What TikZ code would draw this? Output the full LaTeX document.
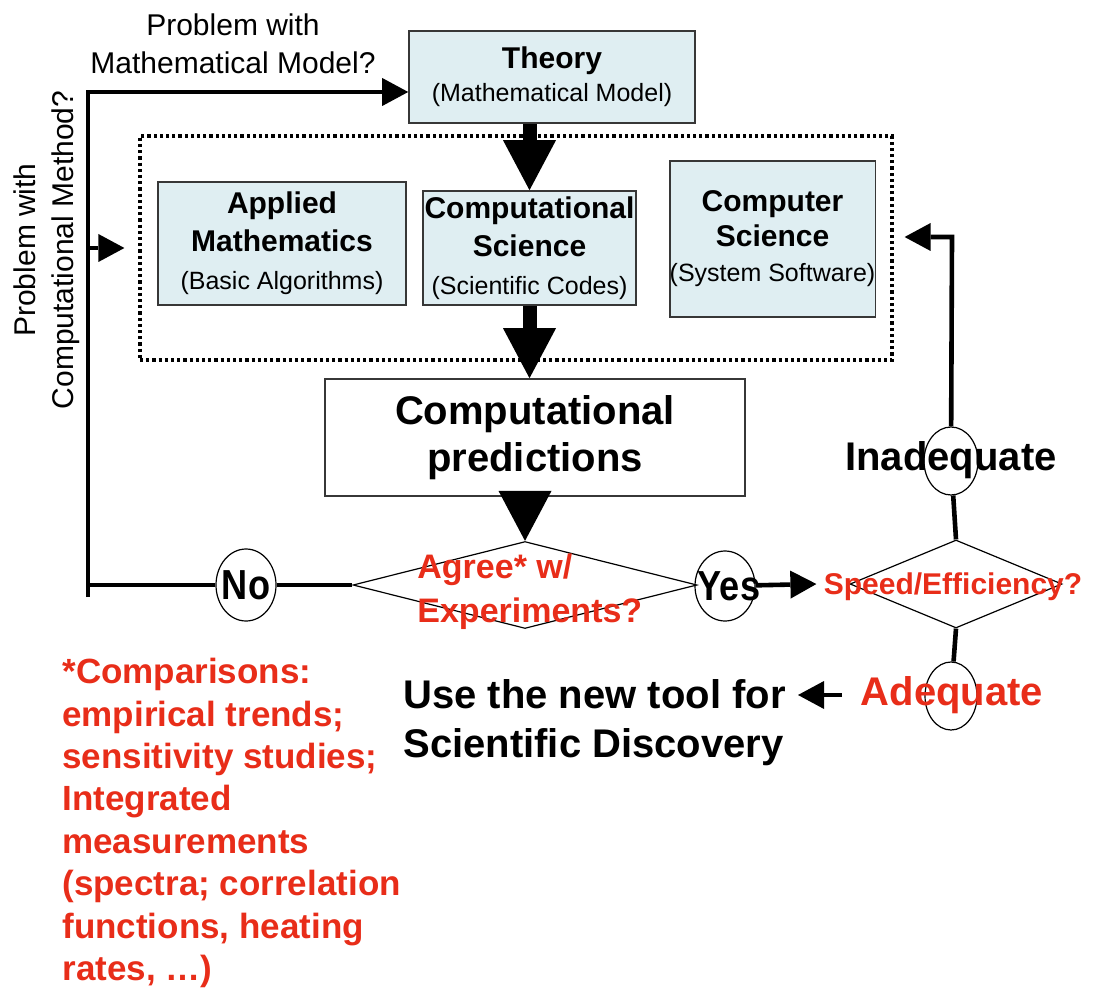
\documentclass[tikz,border=0pt]{standalone}
\usepackage{fontspec}
\setmainfont{Liberation Sans}
\newfontfamily\answerfont{Liberation Sans}[FakeStretch=0.86]
\usetikzlibrary{arrows.meta,shapes.geometric}

\definecolor{boxfill}{RGB}{223,238,242}
\definecolor{boxline}{RGB}{55,55,55}
\definecolor{alertred}{RGB}{232,45,25}

\newcommand{\boxsub}{\fontsize{12.5}{19}\selectfont\mdseries}

\tikzset{
  box/.style={draw=boxline, fill=boxfill, line width=0.8pt, align=center, inner sep=0pt,
    font=\fontsize{15}{19}\selectfont\bfseries},
  decision/.style={diamond, draw, line width=0.6pt, inner sep=0pt},
  answer/.style={ellipse, draw, line width=0.6pt, inner sep=0pt},
  answertext/.style={font=\fontsize{21}{22}\answerfont\bfseries, inner sep=0pt},
  link/.style={line width=2.3pt},
  linkarrow/.style={link, -{Triangle[width=14pt,length=13pt,line width=0pt]}},
  flowarrow/.style={line width=7pt, -{Triangle[width=26.5pt,length=25pt,line width=0pt]}},
  redtext/.style={text=alertred, font=\bfseries}
}

\begin{document}
\begin{tikzpicture}[x=0.5pt,y=-0.5pt]
  \useasboundingbox (0,0) rectangle (1096,989);

  % dotted frame round the three fields
  \node[draw, line width=1.6pt, dash pattern=on 1.6pt off 1.5pt, minimum width=376pt, minimum height=112pt, inner sep=0pt] (frame) at (516,248) {};

  % boxes
  \node[box, minimum width=143pt, minimum height=46pt, font=\fontsize{15}{16.5}\selectfont\bfseries] (theory) at (552,77)
    {Theory\\\fontsize{12.5}{16.5}\selectfont\mdseries(Mathematical Model)};
  \node[box, minimum width=124pt, minimum height=61.5pt] (applied) at (282,243.5)
    {Applied\\Mathematics\\\boxsub(Basic Algorithms)};
  \node[box, minimum width=106.5pt, minimum height=57pt] (compsci) at (529.5,248)
    {Computational\\Science\\\boxsub(Scientific Codes)};
  \node[box, minimum width=101.5pt, minimum height=78pt, font=\fontsize{15}{17.5}\selectfont\bfseries] (computer) at (772.5,239)
    {Computer\\Science\\\fontsize{12.5}{17.5}\selectfont\mdseries(System Software)};
  \node[box, fill=white, minimum width=210pt, minimum height=58.5pt, font=\fontsize{20}{23.5}\selectfont\bfseries] (pred) at (535,437.5)
    {Computational\\predictions};

  % decisions and answers
  \node[decision, minimum width=172pt, minimum height=43.5pt] (agree) at (525,585) {};
  \node[redtext, font=\fontsize{17}{22}\selectfont\bfseries, align=left, anchor=west, inner sep=0pt] (agreetext) at (417,592) {Agree* w/\\Experiments?};
  \node[decision, minimum width=106pt, minimum height=44pt] (speed) at (956,584) {};
  \node[redtext, font=\fontsize{15}{18}\selectfont\bfseries, inner sep=0pt] (speedtext) at (953,587) {Speed/Efficiency?};

  \node[answer, minimum width=30pt, minimum height=36pt] (no) at (246,585) {};
  \node[answertext] (notext) at (246,585) {No};
  \node[answer, minimum width=30pt, minimum height=35pt] (yes) at (725,586) {};
  \node[answertext] (yestext) at (729,586) {Yes};
  \node[answer, minimum width=27pt, minimum height=34pt] (inad) at (951,461) {};
  \node[font=\fontsize{20}{22}\selectfont\bfseries, inner sep=0pt] (inadtext) at (951,460) {Inadequate};
  \node[answer, minimum width=26pt, minimum height=34pt] (adeq) at (951,696) {};
  \node[redtext, font=\fontsize{20}{22}\selectfont\bfseries, inner sep=0pt] (adeqtext) at (952,695) {Adequate};

  % free texts
  \node[align=center, font=\fontsize{15}{19}\selectfont, inner sep=0pt] (modelq) at (233,44) {Problem with\\Mathematical Model?};
  \node[align=center, rotate=90, font=\fontsize{15}{19}\selectfont, inner sep=0pt] (methodq) at (47,250) {Problem with\\Computational Method?};
  \node[align=left, anchor=west, font=\fontsize{20}{24.5}\selectfont\bfseries, inner sep=0pt] (usetext) at (403,723) {Use the new tool for\\Scientific Discovery};
  \node[redtext, align=left, anchor=north west, font=\fontsize{17.5}{21.2}\selectfont\bfseries, inner sep=0pt] (notes) at (62,658)
    {*Comparisons:\\empirical trends;\\sensitivity studies;\\Integrated\\measurements\\(spectra; correlation\\functions, heating\\rates, \dots)};

  % corners of the loops
  \coordinate (loopbot) at (88,597);
  \coordinate (looptop) at (88,92);
  \coordinate (backturn) at (952,237);
  \coordinate (usetip) at (798,695);
  \coordinate (usestart) at (842,695);

  % main flow
  \draw[flowarrow] (compsci.north |- theory.south) -- (compsci.north);
  \draw[flowarrow] (compsci.south) -- (compsci.south |- pred.north);
  \draw[flowarrow] (agree.north |- pred.south) -- (agree.north);

  % No: back to the model or to the method
  \draw[link] (agree.west) -- (no);
  \draw[link] (no) -- (no -| loopbot);
  \draw[linkarrow] (loopbot) -- (looptop) -- (looptop -| theory.west);
  \draw[linkarrow] (frame.west -| loopbot) -- ([xshift=-7pt]frame.west);

  % Yes: check the speed
  \draw[linkarrow] (yes) -- ([xshift=-16.5pt]speed.west);
  \draw[link] (speed.north) -- (inad);
  \draw[linkarrow] (inad) -- (backturn) -- ([xshift=5.5pt]backturn -| frame.east);
  \draw[link] (speed.south) -- (adeq);
  \draw[linkarrow] (usestart) -- (usetip);
\end{tikzpicture}
\end{document}
